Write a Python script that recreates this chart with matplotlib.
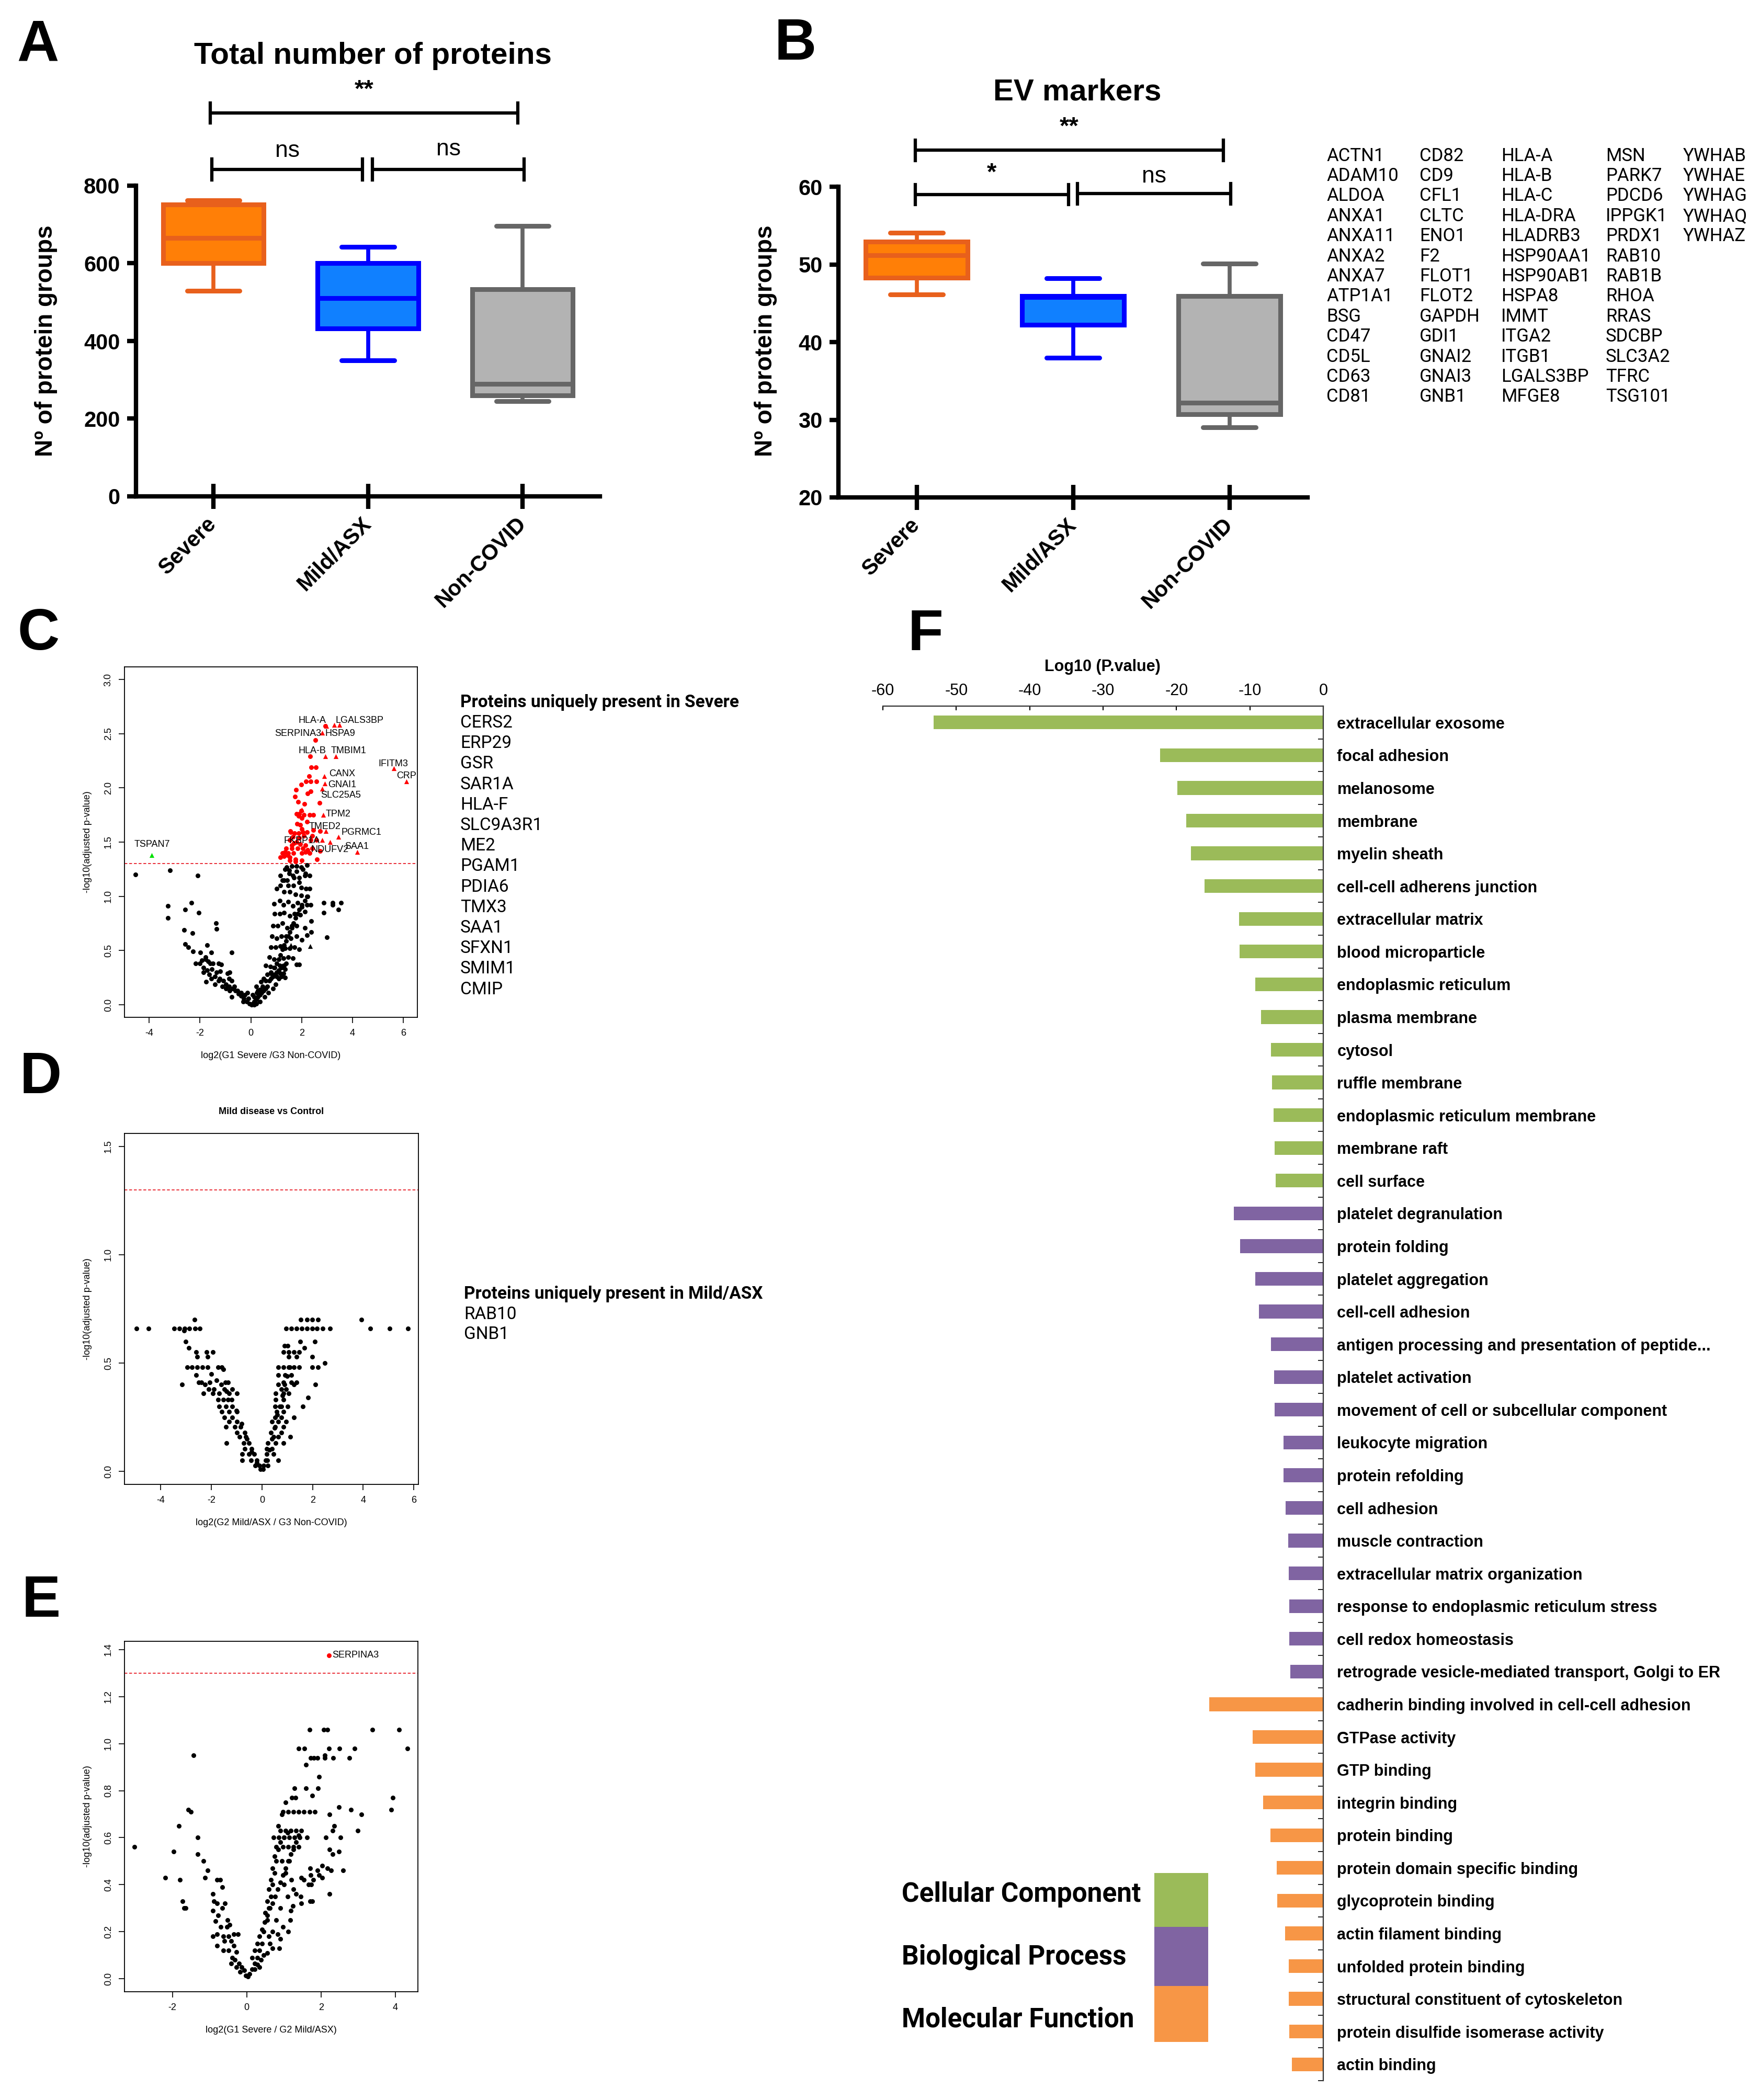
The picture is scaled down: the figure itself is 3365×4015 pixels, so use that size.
import numpy as np
import matplotlib
matplotlib.use("Agg")
import matplotlib.pyplot as plt
from matplotlib.patches import Rectangle

# ---------------- data ----------------
groups = ["Severe", "Mild/ASX", "Non-COVID"]
# (whislo, q1, med, q3, whishi)
total_prot = [(529, 601, 665, 752, 762), (350, 432, 510, 600, 642), (245, 260, 290, 534, 696)]
ev_markers = [(46.1, 48.3, 51.2, 52.9, 54.1), (38.0, 42.2, 45.8, 45.9, 48.2), (29.0, 30.7, 32.2, 45.9, 50.1)]
box_face = ["#ff7f07", "#1080ff", "#b3b3b3"]
box_edge = ["#e8601c", "#0000ff", "#666666"]

ev_list = [
    ["ACTN1", "ADAM10", "ALDOA", "ANXA1", "ANXA11", "ANXA2", "ANXA7", "ATP1A1", "BSG", "CD47", "CD5L", "CD63", "CD81"],
    ["CD82", "CD9", "CFL1", "CLTC", "ENO1", "F2", "FLOT1", "FLOT2", "GAPDH", "GDI1", "GNAI2", "GNAI3", "GNB1"],
    ["HLA-A", "HLA-B", "HLA-C", "HLA-DRA", "HLADRB3", "HSP90AA1", "HSP90AB1", "HSPA8", "IMMT", "ITGA2", "ITGB1", "LGALS3BP", "MFGE8"],
    ["MSN", "PARK7", "PDCD6", "IPPGK1", "PRDX1", "RAB10", "RAB1B", "RHOA", "RRAS", "SDCBP", "SLC3A2", "TFRC", "TSG101"],
    ["YWHAB", "YWHAE", "YWHAG", "YWHAQ", "YWHAZ"],
]

severe_unique = ["CERS2", "ERP29", "GSR", "SAR1A", "HLA-F", "SLC9A3R1", "ME2", "PGAM1", "PDIA6",
                 "TMX3", "SAA1", "SFXN1", "SMIM1", "CMIP"]
mild_unique = ["RAB10", "GNB1"]

# volcano C: Severe vs Non-COVID
c_ns = [
    (-4.54, 1.20), (-3.19, 1.24), (-2.10, 1.19), (-3.26, 0.91), (-3.26, 0.80), (-2.58, 0.88), (-2.34, 0.94), (-2.05, 0.85),
    (-2.62, 0.69), (-2.30, 0.66), (-1.36, 0.75), (-1.34, 0.70), (-2.58, 0.56), (-2.45, 0.53), (-2.28, 0.49), (-1.99, 0.48),
    (-1.71, 0.55), (-1.55, 0.48), (-0.75, 0.48), (-2.17, 0.38), (-1.93, 0.41), (-1.79, 0.42), (-1.68, 0.40), (-1.49, 0.38),
    (-1.27, 0.38), (-1.16, 0.37), (-1.86, 0.34), (-1.71, 0.32), (-1.53, 0.33), (-1.34, 0.30), (-1.20, 0.31), (-0.92, 0.29),
    (-1.56, 0.24), (-1.77, 0.21), (-1.42, 0.26), (-1.23, 0.24), (-1.08, 0.22), (-0.97, 0.19), (-0.86, 0.17), (-0.72, 0.15),
    (-0.61, 0.13), (-0.49, 0.10), (-0.38, 0.08), (-0.27, 0.06), (-0.16, 0.03), (-0.05, 0.01), (0.06, 0.01), (0.13, 0.03),
    (0.21, 0.05), (0.28, 0.07), (0.35, 0.09), (0.43, 0.11), (0.50, 0.13), (0.58, 0.15), (0.65, 0.17), (0.72, 0.22),
    (0.80, 0.24), (0.87, 0.26), (0.94, 0.28), (1.02, 0.30), (1.09, 0.32), (1.20, 0.34), (1.28, 0.36), (1.35, 0.33),
    (1.39, 0.38), (0.58, 0.22), (0.46, 0.17), (0.35, 0.14), (0.24, 0.11), (0.13, 0.07), (0.80, 0.30), (0.91, 0.34),
    (1.02, 0.38), (1.09, 0.42), (1.17, 0.46), (1.24, 0.51), (1.31, 0.55), (1.39, 0.59), (1.46, 0.63), (1.54, 0.67),
    (1.61, 0.71), (1.68, 0.75), (1.76, 0.80), (1.83, 0.84), (1.90, 0.88), (2.01, 0.92), (2.13, 0.96), (2.24, 1.00),
    (2.31, 1.07), (2.31, 1.19), (2.20, 1.29), (1.98, 1.27), (1.79, 1.23), (1.65, 1.19), (1.50, 1.21), (1.35, 1.25),
    (1.17, 1.19), (1.31, 1.15), (1.46, 1.10), (1.68, 1.10), (1.90, 1.13), (2.13, 1.19), (1.98, 1.08), (2.16, 1.07),
    (1.02, 1.07), (1.17, 1.10), (1.31, 1.04), (1.54, 1.04), (1.76, 1.02), (1.98, 1.01), (2.20, 1.00),
    (0.91, 0.93), (1.13, 0.96), (1.28, 0.92), (1.46, 0.95), (1.65, 0.91), (1.83, 0.94), (2.01, 0.90), (2.20, 0.92), (2.35, 0.92),
    (0.94, 0.84), (1.13, 0.84), (1.31, 0.85), (1.54, 0.82), (1.72, 0.84), (1.94, 0.83), (2.13, 0.86), (2.38, 0.77),
    (0.87, 0.73), (1.06, 0.73), (1.24, 0.75), (1.42, 0.71), (1.61, 0.73), (1.79, 0.73), (2.13, 0.71), (2.20, 0.64), (2.38, 0.67),
    (0.83, 0.63), (1.02, 0.61), (1.20, 0.63), (1.39, 0.63), (1.57, 0.61), (1.79, 0.63), (2.01, 0.60),
    (0.80, 0.53), (0.98, 0.53), (1.17, 0.54), (1.35, 0.52), (1.54, 0.52), (1.72, 0.53), (1.90, 0.51),
    (0.72, 0.44), (0.91, 0.42), (1.28, 0.43), (1.46, 0.44), (1.65, 0.43), (1.79, 0.37), (1.90, 0.37),
    (0.58, 0.36), (0.76, 0.35), (0.94, 0.34), (1.13, 0.36), (1.31, 0.36),
    (0.65, 0.28), (0.83, 0.28), (1.02, 0.26), (1.20, 0.26), (1.35, 0.25),
    (0.50, 0.24), (0.39, 0.21), (0.21, 0.17), (0.28, 0.13), (0.06, 0.09), (-0.09, 0.06),
    (2.86, 0.94), (2.86, 0.85), (3.21, 0.94), (3.21, 0.92), (3.45, 0.88), (3.55, 0.94), (3.00, 0.62),
    (-0.53, 0.13), (-0.64, 0.17), (-0.75, 0.22), (-0.86, 0.24), (-0.38, 0.11), (-0.24, 0.09), (-0.13, 0.11), (-0.83, 0.13),
    (-0.97, 0.15), (-1.12, 0.17), (-1.27, 0.22), (-1.42, 0.19), (-1.64, 0.28), (-1.86, 0.30), (-2.01, 0.38), (-1.79, 0.44),
    (-1.60, 0.38), (-0.83, 0.30), (-0.75, 0.07), (-0.31, 0.03), (0.13, 0.00), (0.02, 0.00), (0.21, 0.01), (0.35, 0.03),
    (0.54, 0.07), (0.69, 0.11), (0.87, 0.15), (0.98, 0.19), (1.09, 0.24), (1.17, 0.29), (1.28, 0.29),
    (1.40, 1.27), (1.50, 1.24), (1.62, 1.28), (1.80, 1.28), (2.05, 1.25), (2.15, 1.21), (1.25, 1.15), (1.42, 1.15),
    (1.70, 1.17), (1.90, 1.17),
]
c_ns_tri = [(2.34, 0.54), (1.58, 0.55)]
c_sig = [
    (2.92, 2.57), (2.54, 2.44), (2.33, 2.29), (2.37, 2.19), (2.55, 2.19), (2.30, 2.11), (2.16, 2.06), (2.35, 2.06),
    (2.57, 2.06), (1.98, 2.03), (2.35, 1.97), (2.24, 1.95), (1.78, 1.98), (1.73, 1.92), (2.70, 1.86), (1.85, 1.87),
    (2.10, 1.85), (1.98, 1.79), (1.79, 1.76), (1.90, 1.76), (2.09, 1.75), (2.31, 1.75), (2.46, 1.75), (1.82, 1.67),
    (2.20, 1.69), (2.01, 1.62), (1.57, 1.59), (1.72, 1.58), (1.87, 1.58), (2.05, 1.59), (2.20, 1.59), (2.46, 1.61),
    (2.72, 1.60), (2.42, 1.56), (1.65, 1.55), (1.90, 1.54), (2.09, 1.56), (1.54, 1.52), (1.79, 1.50), (2.35, 1.52),
    (2.57, 1.52), (1.39, 1.44), (1.61, 1.44), (1.83, 1.44), (2.05, 1.44), (2.24, 1.43), (2.42, 1.44), (1.24, 1.40),
    (1.46, 1.40), (1.68, 1.40), (2.01, 1.40), (2.31, 1.40), (2.72, 1.42), (1.17, 1.36), (1.54, 1.36), (1.76, 1.34),
    (2.01, 1.33), (2.61, 1.34), (1.54, 1.33), (1.76, 1.32), (1.45, 1.38), (1.30, 1.37), (1.62, 1.47), (1.70, 1.49),
    (1.95, 1.48), (2.15, 1.47), (1.55, 1.60), (1.95, 1.66), (2.00, 1.72), (1.87, 1.74), (2.14, 1.41), (1.35, 1.41),
]
c_sig_tri = [
    (2.97, 2.57), (3.27, 2.58), (3.49, 2.58), (2.80, 2.51), (2.92, 2.29), (3.34, 2.29), (5.62, 2.18), (6.11, 2.06),
    (2.88, 2.11), (2.90, 2.04), (2.81, 1.99), (2.84, 1.75), (2.94, 1.60), (3.45, 1.55), (2.80, 1.52), (3.11, 1.50),
    (4.19, 1.41), (2.01, 1.80),
]
c_down = [(-3.90, 1.38)]
c_labels = [
    ("HLA-A", 2.42, 2.62), ("LGALS3BP", 4.28, 2.62), ("SERPINA3", 1.85, 2.50), ("HSPA9", 3.51, 2.50),
    ("HLA-B", 2.42, 2.34), ("TMBIM1", 3.84, 2.34), ("IFITM3", 5.61, 2.22), ("CRP", 6.11, 2.11),
    ("CANX", 3.59, 2.13), ("GNAI1", 3.60, 2.03), ("SLC25A5", 3.53, 1.93), ("TPM2", 3.43, 1.76),
    ("TMED2", 2.92, 1.64), ("PGRMC1", 4.34, 1.59), ("FKBP1A", 2.00, 1.51), ("NDUFV2", 3.10, 1.43),
    ("SAA1", 4.17, 1.46), ("TSPAN7", -3.89, 1.48),
]

# volcano D: Mild/ASX vs Non-COVID
d_ns = [
    (-4.96, 0.66), (-4.49, 0.66), (-3.47, 0.66), (-3.27, 0.66), (-3.06, 0.66), (-2.86, 0.66), (-2.65, 0.66), (-2.45, 0.66),
    (0.96, 0.66), (1.16, 0.66), (1.37, 0.66), (1.57, 0.66), (1.78, 0.66), (1.98, 0.66), (2.18, 0.66), (2.39, 0.66), (2.69, 0.66),
    (4.27, 0.66), (5.04, 0.66), (5.76, 0.66),
    (-2.67, 0.70), (1.53, 0.70), (1.78, 0.70), (1.98, 0.70), (2.22, 0.70), (3.92, 0.70),
    (-3.08, 0.65), (-3.02, 0.60), (1.51, 0.60), (2.08, 0.60), (0.90, 0.58), (1.02, 0.58), (-2.88, 0.57), (1.67, 0.57),
    (-2.59, 0.55), (-2.18, 0.55), (-1.94, 0.55), (0.86, 0.55), (1.06, 0.55), (1.27, 0.55), (1.47, 0.55),
    (-2.55, 0.53), (-2.14, 0.53), (1.06, 0.53), (1.37, 0.53), (1.98, 0.53), (2.49, 0.50),
    (-2.96, 0.48), (-2.76, 0.48), (-2.55, 0.48), (-2.35, 0.48), (-2.14, 0.48), (-1.73, 0.48), (-1.59, 0.48), (-1.53, 0.47),
    (0.65, 0.48), (0.86, 0.48), (1.06, 0.48), (1.27, 0.48), (1.47, 0.48), (1.98, 0.48), (2.22, 0.48),
    (-2.61, 0.445), (0.65, 0.445), (0.92, 0.445), (1.16, 0.445),
    (-2.50, 0.41), (-2.40, 0.41), (-2.06, 0.41), (-1.45, 0.41), (-1.33, 0.41), (0.86, 0.41), (1.16, 0.41), (1.37, 0.41),
    (-3.16, 0.40), (-2.24, 0.40), (0.65, 0.40), (1.27, 0.40), (2.10, 0.40),
    (-2.10, 0.38), (-1.90, 0.38), (-1.49, 0.38), (-1.18, 0.38), (0.76, 0.38), (0.96, 0.38),
    (-2.31, 0.36), (-1.94, 0.36), (-1.69, 0.36), (-1.29, 0.36), (-0.98, 0.36), (0.55, 0.36), (0.86, 0.36), (1.06, 0.36),
    (1.82, 0.34), (-1.73, 0.33), (-1.53, 0.33), (-1.33, 0.33), (0.55, 0.33), (0.86, 0.33),
    (-1.69, 0.30), (-1.43, 0.30), (-1.18, 0.30), (0.51, 0.30), (0.76, 0.30), (1.02, 0.30), (1.61, 0.30),
    (-1.59, 0.275), (-1.29, 0.275), (-0.98, 0.275), (0.59, 0.275), (0.86, 0.275),
    (-1.49, 0.25), (-1.18, 0.25), (0.51, 0.25), (0.76, 0.25), (1.27, 0.25),
    (-1.29, 0.23), (-0.98, 0.23), (0.39, 0.23), (0.65, 0.23), (0.96, 0.23),
    (-1.43, 0.205), (-1.08, 0.205), (-0.84, 0.205), (0.51, 0.205), (0.86, 0.205),
    (-0.98, 0.18), (-0.67, 0.18), (0.35, 0.18), (0.76, 0.18),
    (-0.88, 0.16), (-0.63, 0.16), (0.45, 0.16), (0.65, 0.16), (1.12, 0.16),
    (-1.41, 0.13), (-0.71, 0.13), (-0.51, 0.13), (0.24, 0.13), (0.55, 0.13), (0.86, 0.13),
    (-0.67, 0.105), (-0.41, 0.105), (0.18, 0.105), (0.39, 0.105),
    (-0.78, 0.08), (-0.51, 0.08), (-0.31, 0.08), (0.18, 0.08), (0.45, 0.08),
    (-0.78, 0.05), (-0.43, 0.05), (-0.20, 0.05), (0.14, 0.05), (0.65, 0.05),
    (-0.27, 0.028), (-0.10, 0.028), (0.06, 0.028), (0.24, 0.028), (-0.06, 0.01), (0.04, 0.01),
    (-2.0, 0.45), (-1.8, 0.42), (-1.6, 0.40), (-1.4, 0.37), (-1.2, 0.33), (-1.0, 0.28), (-0.8, 0.22), (-0.6, 0.15),
    (-0.4, 0.09), (-0.2, 0.04), (0.2, 0.05), (0.3, 0.10), (0.4, 0.15), (0.5, 0.20), (0.6, 0.26), (0.7, 0.30),
    (0.8, 0.35), (0.9, 0.40), (1.0, 0.44), (1.1, 0.48),
]

# volcano E: Severe vs Mild/ASX
e_ns = [
    (-3.02, 0.56), (-1.97, 0.54), (-2.19, 0.43), (-1.80, 0.42), (-1.73, 0.33), (-1.69, 0.30), (-1.64, 0.30), (-1.43, 0.95),
    (-1.57, 0.72), (-1.50, 0.71), (-1.83, 0.65), (-1.32, 0.60), (-1.32, 0.53), (-1.17, 0.50), (-1.05, 0.46), (-1.12, 0.43),
    (-0.91, 0.36), (-0.80, 0.42), (-0.72, 0.42), (-0.66, 0.39), (-0.88, 0.33), (-0.80, 0.32), (-0.59, 0.32), (-0.91, 0.29),
    (-0.66, 0.30), (-0.77, 0.27), (-0.84, 0.245), (-0.70, 0.22), (-0.52, 0.25), (-0.46, 0.23), (-0.53, 0.22), (-0.91, 0.18),
    (-0.80, 0.19), (-0.63, 0.18), (-0.49, 0.18), (-0.35, 0.19), (-0.24, 0.19), (-0.60, 0.16), (-0.42, 0.16), (-0.80, 0.14),
    (-0.63, 0.12), (-0.49, 0.12), (-0.35, 0.14), (-0.28, 0.115), (-0.39, 0.09), (-0.32, 0.08), (-0.21, 0.065), (-0.14, 0.05),
    (-0.07, 0.036), (-0.03, 0.014), (-0.42, 0.065), (-0.28, 0.05), (-0.18, 0.03),
    (0.07, 0.02), (0.14, 0.04), (0.21, 0.065), (0.28, 0.09), (0.35, 0.12), (0.42, 0.15),
    (0.14, 0.09), (0.21, 0.12), (0.28, 0.15), (0.35, 0.18), (0.42, 0.21), (0.49, 0.24), (0.56, 0.27), (0.63, 0.30),
    (0.70, 0.32), (0.77, 0.35), (0.84, 0.38), (0.91, 0.41), (0.98, 0.44), (1.05, 0.47), (1.12, 0.50), (1.19, 0.53),
    (1.26, 0.55), (1.33, 0.58), (1.40, 0.61),
    (0.91, 0.63), (1.05, 0.63), (1.19, 0.63), (1.33, 0.63), (1.47, 0.63),
    (0.73, 0.60), (0.87, 0.60), (1.01, 0.60), (1.15, 0.60), (1.29, 0.60), (1.43, 0.60), (1.62, 0.60),
    (0.80, 0.56), (0.98, 0.56), (1.12, 0.56), (1.26, 0.56), (1.40, 0.56),
    (0.98, 0.71), (1.12, 0.71), (1.26, 0.71), (1.40, 0.71), (1.54, 0.71), (1.69, 0.71), (1.83, 0.71),
    (1.22, 0.77), (1.31, 0.77), (1.76, 0.78), (1.28, 0.81), (1.92, 0.81), (1.59, 0.81), (1.95, 0.86), (1.59, 0.91),
    (1.73, 0.94), (1.81, 0.94), (1.90, 0.94), (2.11, 0.94), (2.33, 0.94), (2.77, 0.94), (2.11, 0.95),
    (1.40, 0.98), (1.56, 0.98), (2.22, 0.98), (2.50, 0.98), (2.91, 0.98), (4.33, 0.98),
    (1.69, 1.06), (2.08, 1.06), (2.18, 1.06), (3.38, 1.06), (4.10, 1.06),
    (3.89, 0.72), (3.93, 0.77), (2.49, 0.73), (2.81, 0.72), (3.09, 0.70), (2.23, 0.70), (2.99, 0.63), (2.36, 0.65),
    (2.32, 0.63), (2.13, 0.60), (2.53, 0.60), (2.23, 0.55), (2.32, 0.53), (2.49, 0.54), (2.04, 0.48), (2.18, 0.47),
    (2.27, 0.46), (2.60, 0.46), (1.71, 0.47), (1.91, 0.46), (1.73, 0.44), (1.95, 0.44), (2.04, 0.43), (1.80, 0.42),
    (1.74, 0.40), (2.23, 0.36), (1.47, 0.43), (1.54, 0.42), (1.66, 0.40), (1.26, 0.38), (1.33, 0.36), (1.45, 0.35),
    (1.47, 0.32), (1.71, 0.33), (1.77, 0.33), (1.24, 0.31), (1.19, 0.29), (1.17, 0.25), (0.98, 0.22), (1.12, 0.20),
    (0.84, 0.19), (0.91, 0.17), (0.88, 0.13), (0.63, 0.15), (0.70, 0.13), (0.56, 0.11), (0.46, 0.10), (0.39, 0.08),
    (0.29, 0.06), (0.21, 0.04), (0.35, 0.05), (0.04, 0.01),
    (0.45, 0.20), (0.55, 0.25), (0.60, 0.30), (0.65, 0.35), (0.70, 0.40), (0.75, 0.45), (0.80, 0.50), (0.85, 0.55),
    (0.50, 0.28), (0.55, 0.33), (0.60, 0.38), (0.65, 0.42), (0.70, 0.47), (0.75, 0.52), (0.90, 0.58), (1.00, 0.60),
    (1.10, 0.62), (0.95, 0.50), (1.05, 0.45), (1.00, 0.40), (0.90, 0.30), (0.80, 0.25), (0.70, 0.20), (0.60, 0.18),
    (1.10, 0.35), (1.20, 0.42), (1.15, 0.50), (0.85, 0.65), (0.95, 0.70), (1.05, 0.75),
]
e_sig = [(2.21, 1.375)]

# GO enrichment (F)
go_terms = [
    "extracellular exosome", "focal adhesion", "melanosome", "membrane", "myelin sheath",
    "cell-cell adherens junction", "extracellular matrix", "blood microparticle", "endoplasmic reticulum",
    "plasma membrane", "cytosol", "ruffle membrane", "endoplasmic reticulum membrane", "membrane raft",
    "cell surface",
    "platelet degranulation", "protein folding", "platelet aggregation", "cell-cell adhesion",
    "antigen processing and presentation of peptide...", "platelet activation",
    "movement of cell or subcellular component", "leukocyte migration", "protein refolding", "cell adhesion",
    "muscle contraction", "extracellular matrix organization", "response to endoplasmic reticulum stress",
    "cell redox homeostasis", "retrograde vesicle-mediated transport, Golgi to ER",
    "cadherin binding involved in cell-cell adhesion", "GTPase activity", "GTP binding", "integrin binding",
    "protein binding", "protein domain specific binding", "glycoprotein binding", "actin filament binding",
    "unfolded protein binding", "structural constituent of cytoskeleton", "protein disulfide isomerase activity",
    "actin binding",
]
go_log10p = [
    -53.1, -22.2, -19.9, -18.7, -18.0, -16.2, -11.5, -11.4, -9.25, -8.5, -7.1, -7.0, -6.8, -6.6, -6.5,
    -12.2, -11.3, -9.25, -8.8, -7.1, -6.7, -6.6, -5.4, -5.4, -5.1, -4.8, -4.7, -4.6, -4.6, -4.5,
    -15.5, -9.6, -9.25, -8.2, -7.2, -6.35, -6.3, -5.2, -4.7, -4.7, -4.6, -4.3,
]
go_cat = ["CC"] * 15 + ["BP"] * 15 + ["MF"] * 12
cat_names = {"CC": "Cellular Component", "BP": "Biological Process", "MF": "Molecular Function"}
cat_colors = {"CC": "#9bbb59", "BP": "#8064a2", "MF": "#f79646"}

# ---------------- figure ----------------
W, H = 3365, 4015
plt.rcParams['font.family'] = ['Liberation Sans', 'DejaVu Sans']
fig = plt.figure(figsize=(W / 100, H / 100), dpi=100)


def px_axes(x0, y0, x1, y1):
    return fig.add_axes([x0 / W, 1 - y1 / H, (x1 - x0) / W, (y1 - y0) / H])


def ftext(x, y, s, **kw):
    return fig.text(x / W, 1 - y / H, s, **kw)


def box_panel(rect, stats, ylim, yticks, sig):
    ax = px_axes(*rect)
    st = [dict(whislo=a, q1=b, med=c, q3=d, whishi=e, fliers=[]) for a, b, c, d, e in stats]
    bp = ax.bxp(st, positions=[1, 2, 3], widths=0.65, capwidths=0.34, patch_artist=True, showfliers=False)
    for i in range(3):
        bp['boxes'][i].set(facecolor=box_face[i], edgecolor=box_edge[i], linewidth=6.5, zorder=3)
        bp['medians'][i].set(color=box_edge[i], linewidth=6.5, zorder=4)
        for w in bp['whiskers'][2 * i:2 * i + 2]:
            w.set(color=box_edge[i], linewidth=5.5, zorder=2)
        for c in bp['caps'][2 * i:2 * i + 2]:
            c.set(color=box_edge[i], linewidth=6.5, solid_capstyle='round', zorder=2)
    ax.set_xlim(0.5, 3.5)
    ax.set_ylim(*ylim)
    ax.set_yticks(yticks)
    ax.set_yticklabels([str(t) for t in yticks], fontsize=30, fontweight='bold')
    ax.set_xticks([1, 2, 3])
    ax.set_xticklabels(groups, rotation=45, ha='right', va='center', rotation_mode='anchor',
                       fontsize=30, fontweight='bold')
    for s in ['top', 'right']:
        ax.spines[s].set_visible(False)
    for s in ['left', 'bottom']:
        ax.spines[s].set_linewidth(6)
    ax.tick_params(axis='x', direction='inout', length=35, width=6, pad=16)
    ax.tick_params(axis='y', direction='out', length=12, width=6, pad=10)
    # significance brackets
    for x0, x1, yb, half, lab, ty, fs, fw in sig:
        ax.plot([x0, x1], [yb, yb], color='black', lw=4.5, clip_on=False, solid_capstyle='butt')
        for xx in (x0, x1):
            ax.plot([xx, xx], [yb - half, yb + half], color='black', lw=4.5, clip_on=False)
        ax.text((x0 + x1) / 2, ty, lab, ha='center', va='center', fontsize=fs, fontweight=fw, clip_on=False)
    return ax


# A
box_panel((260, 355, 1147, 949), total_prot, (0, 800), [0, 200, 400, 600, 800],
          [(0.98, 2.97, 987, 26, "**", 1045, 34, 'bold'),
           (0.99, 1.965, 842, 27, "ns", 890, 32, 'normal'),
           (2.03, 3.01, 842, 27, "ns", 893, 32, 'normal')])
ftext(713, 107, "Total number of proteins", ha='center', va='center', fontsize=42, fontweight='bold')
ftext(88, 652, "Nº of protein groups", ha='center', va='center', rotation=90, fontsize=33, fontweight='bold')

# B
box_panel((1603, 357, 2500, 951), ev_markers, (20, 60), [20, 30, 40, 50, 60],
          [(0.99, 2.96, 64.7, 1.3, "**", 67.6, 34, 'bold'),
           (0.99, 1.97, 59.0, 1.3, "*", 61.7, 34, 'bold'),
           (2.03, 3.01, 59.1, 1.3, "ns", 61.3, 32, 'normal')])
ftext(2060, 177, "EV markers", ha='center', va='center', fontsize=42, fontweight='bold')
ftext(1464, 652, "Nº of protein groups", ha='center', va='center', rotation=90, fontsize=33, fontweight='bold')

ev_cols = [2536, 2714, 2870, 3070, 3218]
for ci, col in enumerate(ev_list):
    for ri, name in enumerate(col):
        ftext(ev_cols[ci], 298 + ri * 38.4, name, ha='left', va='center', fontsize=25, family=['Roboto', 'DejaVu Sans'])


def volcano(rect, xlim, ylim, xticks, yticks, ylabs, xlabel, xlab_y, pts):
    ax = px_axes(*rect)
    x, y = zip(*pts)
    ax.scatter(x, y, s=42, c='black', marker='o', linewidths=0, zorder=2)
    ax.axhline(1.3, color='#e8202a', ls=(0, (3, 2)), lw=1.3, zorder=1)
    ax.set_xlim(*xlim)
    ax.set_ylim(*ylim)
    ax.set_xticks(xticks)
    ax.set_xticklabels([str(t) for t in xticks], fontsize=13)
    ax.set_yticks(yticks)
    ax.set_yticklabels(ylabs, fontsize=13, rotation=90, va='center')
    for sp in ax.spines.values():
        sp.set_linewidth(1.3)
    ax.tick_params(length=8, width=1.2, pad=8)
    cx = (rect[0] + rect[2]) / 2
    cy = (rect[1] + rect[3]) / 2
    ftext(cx, xlab_y, xlabel, ha='center', va='center', fontsize=13)
    ftext(rect[0] - 70, cy, "-log10(adjusted p-value)", ha='center', va='center', rotation=90, fontsize=13)
    return ax


# C
axc = volcano((238, 1275, 798, 1945), (-4.97, 6.55), (-0.116, 3.116), [-4, -2, 0, 2, 4, 6],
              [0, 0.5, 1, 1.5, 2, 2.5, 3], ["0.0", "0.5", "1.0", "1.5", "2.0", "2.5", "3.0"],
              "log2(G1 Severe /G3 Non-COVID)", 2018, c_ns)
tx, ty = zip(*c_ns_tri)
axc.scatter(tx, ty, s=44, c='black', marker='^', linewidths=0, zorder=2)
sx, sy = zip(*c_sig)
axc.scatter(sx, sy, s=42, c='red', marker='o', linewidths=0, zorder=3)
sx, sy = zip(*c_sig_tri)
axc.scatter(sx, sy, s=44, c='red', marker='^', linewidths=0, zorder=3)
gx, gy = zip(*c_down)
axc.scatter(gx, gy, s=44, c='#00e000', marker='^', linewidths=0, zorder=3)
for name, lx, ly in c_labels:
    axc.text(lx, ly, name, ha='center', va='center', fontsize=13, zorder=4)

ftext(880, 1343, "Proteins uniquely present in Severe", ha='left', va='center', fontsize=24,
      fontweight='bold', family=['Roboto', 'DejaVu Sans'])
for i, name in enumerate(severe_unique):
    ftext(880, 1382 + i * 39.2, name, ha='left', va='center', fontsize=24, family=['Roboto', 'DejaVu Sans'])

# D
volcano((238, 2167, 800, 2838), (-5.43, 6.18), (-0.06, 1.56), [-4, -2, 0, 2, 4, 6],
        [0, 0.5, 1, 1.5], ["0.0", "0.5", "1.0", "1.5"],
        "log2(G2 Mild/ASX / G3 Non-COVID)", 2911, d_ns)
ftext(519, 2125, "Mild disease vs Control", ha='center', va='center', fontsize=13, fontweight='bold')
ftext(887, 2474, "Proteins uniquely present in Mild/ASX", ha='left', va='center', fontsize=24,
      fontweight='bold', family=['Roboto', 'DejaVu Sans'])
for i, name in enumerate(mild_unique):
    ftext(887, 2513 + i * 38, name, ha='left', va='center', fontsize=24, family=['Roboto', 'DejaVu Sans'])

# E
axe = volcano((238, 3138, 799, 3808), (-3.29, 4.61), (-0.055, 1.435), [-2, 0, 2, 4],
              [0, 0.2, 0.4, 0.6, 0.8, 1.0, 1.2, 1.4], ["0.0", "0.2", "0.4", "0.6", "0.8", "1.0", "1.2", "1.4"],
              "log2(G1 Severe / G2 Mild/ASX)", 3882, e_ns)
ex, ey = zip(*e_sig)
axe.scatter(ex, ey, s=42, c='red', marker='o', linewidths=0, zorder=3)
axe.text(ex[0] + 0.09, ey[0], "SERPINA3", ha='left', va='center', fontsize=13)

# F
axf = px_axes(1688, 1350, 2530, 3978)
ypos = np.arange(len(go_terms))
axf.barh(ypos, go_log10p, height=0.42, color=[cat_colors[c] for c in go_cat], zorder=2)
axf.set_xlim(-60, 0)
axf.set_ylim(len(go_terms) - 0.5, -0.5)
for s in ['left', 'bottom']:
    axf.spines[s].set_visible(False)
for s in ['top', 'right']:
    axf.spines[s].set_linewidth(1.6)
    axf.spines[s].set_color('#333333')
axf.xaxis.tick_top()
axf.set_xticks(range(-60, 1, 10))
axf.set_xticklabels([str(t) for t in range(-60, 1, 10)], fontsize=22)
axf.tick_params(axis='x', direction='in', length=6, width=1.5, pad=10)
axf.yaxis.tick_right()
axf.set_yticks(ypos)
axf.set_yticklabels(go_terms, fontsize=22, fontweight='bold')
axf.set_yticks(np.arange(-0.5, len(go_terms), 1), minor=True)
axf.tick_params(axis='y', which='major', length=0, pad=19)
axf.tick_params(axis='y', which='minor', direction='in', length=7, width=1.2)
ftext(2108, 1275, "Log10 (P.value)", ha='center', va='center', fontsize=22, fontweight='bold')

# category key
key_y = [(3581, 3684), (3684, 3797), (3797, 3904)]
key_text_y = [3622, 3742, 3862]
for (y0, y1), ty, cat in zip(key_y, key_text_y, ["CC", "BP", "MF"]):
    fig.add_artist(Rectangle((2207 / W, 1 - y1 / H), 103 / W, (y1 - y0) / H,
                             transform=fig.transFigure, color=cat_colors[cat], lw=0))
    ftext(1724, ty, cat_names[cat], ha='left', va='center', fontsize=37,
          fontweight='bold', family=['Roboto', 'DejaVu Sans'])

# panel letters
for lab, x, y in [("A", 32, 116), ("B", 1481, 114), ("C", 34, 1242), ("D", 38, 2090), ("E", 42, 3091), ("F", 1736, 1243)]:
    ftext(x, y, lab, ha='left', va='baseline', fontsize=80, fontweight='bold')

fig.savefig("out.png", dpi=100)
